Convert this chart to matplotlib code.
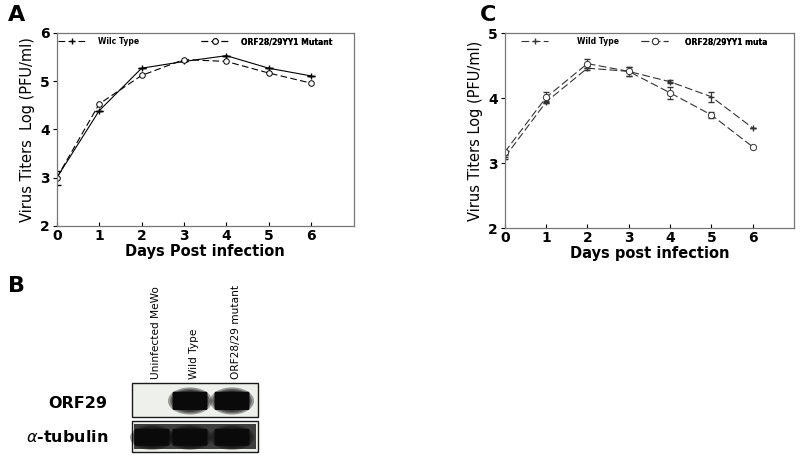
import numpy as np
import matplotlib
matplotlib.use("Agg")
import matplotlib.pyplot as plt
from matplotlib.patches import Ellipse, Rectangle, FancyBboxPatch

days = [0, 1, 2, 3, 4, 5, 6]

# panel A
a_wt = [3.00, 4.39, 5.27, 5.41, 5.53, 5.27, 5.11]
a_wt_err = [0.15, 0, 0, 0, 0, 0, 0]
a_mut = [3.00, 4.53, 5.12, 5.45, 5.41, 5.17, 4.96]
a_labels = ["Wilc Type", "ORF28/29YY1 Mutant"]

# panel C
c_wt = [3.09, 3.94, 4.46, 4.41, 4.25, 4.02, 3.54]
c_wt_err = [0.03, 0.02, 0.03, 0.07, 0.02, 0.08, 0.0]
c_mut = [3.17, 4.01, 4.53, 4.41, 4.08, 3.74, 3.25]
c_mut_err = [0.03, 0.08, 0.07, 0.07, 0.09, 0.04, 0.0]
c_labels = ["Wild Type", "ORF28/29YY1 muta"]

# panel B, western blot
lanes = ["Uninfected MeWo", "Wild Type", "ORF28/29 mutant"]
orf29_band = [0.0, 1.0, 1.0]
tubulin_band = [1.0, 1.0, 1.0]
blot_rows = ["ORF29", "$\\alpha$-tubulin"]


def style_axes(ax, ylim, yticks):
    ax.set_xlim(0, 7)
    ax.set_ylim(*ylim)
    ax.set_xticks(days)
    ax.set_yticks(yticks)
    ax.tick_params(axis="x", direction="in", length=3, pad=2)
    ax.tick_params(axis="y", direction="out", length=3, pad=2)
    for lab in ax.get_xticklabels() + ax.get_yticklabels():
        lab.set_fontweight("bold")
        lab.set_fontsize(10)
    for s in ax.spines.values():
        s.set_color("#777777")
        s.set_linewidth(0.9)


def two_legends(ax, handles, labels, xs, pads):
    for h, l, x, p in zip(handles, labels, xs, pads):
        leg = ax.legend([h], [l], loc="upper left", bbox_to_anchor=(x, 0.995), frameon=False,
                        prop={"weight": "bold", "size": 5.5}, handlelength=3.6,
                        handletextpad=p, borderaxespad=0.2, borderpad=0.2)
        ax.add_artist(leg)


fig = plt.figure(figsize=(8, 4.57), dpi=100)

# ---- A ----
axA = fig.add_axes([0.071, 0.5055, 0.371, 0.4223])
axA.errorbar(days, a_wt, yerr=a_wt_err, fmt="none", ecolor="black", capsize=3, elinewidth=0.7)
hA1, = axA.plot(days, a_wt, color="black", lw=0.8, marker="+", ms=5)
hA2, = axA.plot(days, a_mut, color="black", lw=0.8, ls=(0, (6, 3)), marker="o", ms=4,
                mfc="white", mew=0.7)
style_axes(axA, (2, 6), [2, 3, 4, 5, 6])
axA.set_xlabel("Days Post infection", fontsize=10.5, fontweight="bold", labelpad=1)
axA.set_ylabel("Virus Titers  Log (PFU/ml)", fontsize=10.5, labelpad=4)
hA1_leg, = axA.plot([], [], color="black", lw=0.8, ls=(0, (6, 3)), marker="+", ms=5)
two_legends(axA, [hA1_leg, hA2], a_labels, [-0.005, 0.475], [1.6, 1.6])
fig.text(0.01, 0.955, "A", fontsize=16, fontweight="bold")

# ---- C ----
axC = fig.add_axes([0.631, 0.501, 0.3615, 0.4267])
axC.errorbar(days, c_wt, yerr=c_wt_err, fmt="none", ecolor="#333333", capsize=2.5, elinewidth=0.7)
axC.errorbar(days, c_mut, yerr=c_mut_err, fmt="none", ecolor="#333333", capsize=2.5, elinewidth=0.7)
hC1, = axC.plot(days, c_wt, color="#333333", lw=0.8, ls=(0, (7, 3)), marker="+", ms=5)
hC2, = axC.plot(days, c_mut, color="#333333", lw=0.8, ls=(0, (7, 3)), marker="o", ms=4.5,
                mfc="white", mew=0.7)
style_axes(axC, (2, 5), [2, 3, 4, 5])
axC.set_xlabel("Days post infection", fontsize=10.5, fontweight="bold", labelpad=1)
axC.set_ylabel("Virus Titers Log (PFU/ml)", fontsize=10.5, labelpad=4)
two_legends(axC, [hC1, hC2], c_labels, [0.045, 0.46], [3.8, 2.2])
fig.text(0.60, 0.955, "C", fontsize=16, fontweight="bold")

# ---- B ----
fig.text(0.01, 0.36, "B", fontsize=16, fontweight="bold")
axB = fig.add_axes([0, 0, 1, 1], facecolor="none")
axB.set_xlim(0, 800)
axB.set_ylim(457, 0)
axB.axis("off")

box_x0, box_x1 = 132, 258
rows_y = [(383, 417), (421, 452)]
lane_x = [152, 190, 232]
lane_w = 42
for (y0, y1), bands in zip(rows_y, [orf29_band, tubulin_band]):
    axB.add_patch(Rectangle((box_x0, y0), box_x1 - box_x0, y1 - y0, facecolor="#eef0ec",
                            edgecolor="#1a1a1a", lw=1.0, zorder=1))
    yc = (y0 + y1) / 2
    h = (y1 - y0)
    for xc, v in zip(lane_x, bands):
        if v <= 0:
            continue
        for k in range(5):
            f = 1 - k * 0.1
            axB.add_patch(Ellipse((xc, yc + 1), lane_w * f * 1.05, h * 0.8 * f,
                                  facecolor="black", alpha=0.35 * v, lw=0, zorder=2))
        axB.add_patch(FancyBboxPatch((xc - lane_w * 0.38, yc - h * 0.2), lane_w * 0.76, h * 0.45,
                                     boxstyle="round,pad=1.5", facecolor="#0a0a0a", lw=0, zorder=3))
# tubulin row is dark right across the lanes
axB.add_patch(Rectangle((box_x0 + 2, rows_y[1][0] + 3), box_x1 - box_x0 - 4,
                        rows_y[1][1] - rows_y[1][0] - 6, facecolor="#101010", alpha=0.8,
                        lw=0, zorder=2))

for xc, name in zip(lane_x, lanes):
    axB.text(xc + 4, 379, name, rotation=90, ha="center", va="bottom", fontsize=7.6,
             family="Liberation Sans Narrow")
axB.text(107, 403, blot_rows[0], ha="right", va="center", fontsize=11.5, fontweight="bold")
axB.text(108, 437, blot_rows[1], ha="right", va="center", fontsize=11.5, fontweight="bold")

fig.savefig("out.png", dpi=100)
